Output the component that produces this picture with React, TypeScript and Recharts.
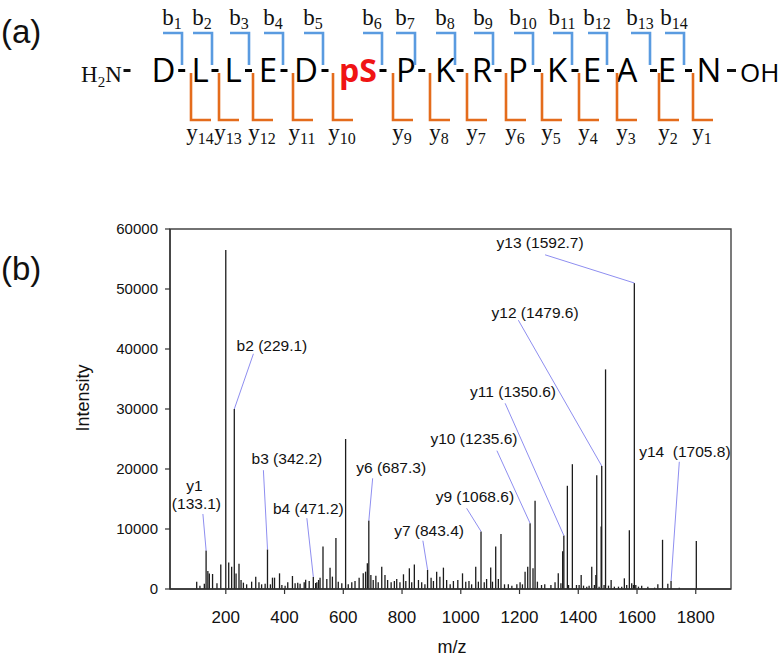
import React from "react";
import {
  ComposedChart,
  Bar,
  XAxis,
  YAxis,
  ReferenceLine,
  ReferenceDot,
  ReferenceArea,
} from "recharts";

// ---- (a) peptide sequence ----
const residues = ["D", "L", "L", "E", "D", "pS", "P", "K", "R", "P", "K", "E", "A", "E", "N"];
const bIons = ["1", "2", "3", "4", "5", "6", "7", "8", "9", "10", "11", "12", "13", "14"];
const yIons = ["14", "13", "12", "11", "10", "9", "8", "7", "6", "5", "4", "3", "2", "1"];

// ---- (b) MS/MS spectrum: peak m/z and intensity ----
const peakMz = [
  101, 112, 127, 133, 139, 144, 155, 170, 183, 200, 210, 220, 229, 235, 245, 252, 260, 271,
  288, 302, 313, 322, 334, 342, 352, 359, 366, 383, 391, 402, 411, 427, 436, 445, 453, 467,
  472, 484, 498, 506, 510, 516, 521, 531, 544, 555, 563, 575, 583, 595, 608, 617, 629, 640,
  654, 668, 676, 682, 687, 694, 702, 711, 719, 731, 742, 751, 763, 774, 782, 793, 805, 813,
  825, 833, 842, 856, 867, 878, 887, 899, 907, 918, 929, 941, 952, 964, 975, 990, 1006, 1017,
  1028, 1037, 1051, 1060, 1069, 1080, 1088, 1102, 1108, 1119, 1128, 1137, 1149, 1162, 1174,
  1191, 1202, 1210, 1219, 1228, 1236, 1246, 1253, 1261, 1275, 1286, 1307, 1321, 1332, 1341,
  1347, 1351, 1363, 1367, 1380, 1394, 1403, 1410, 1418, 1429, 1437, 1446, 1455, 1460, 1463,
  1471, 1478, 1480, 1488, 1493, 1503, 1512, 1523, 1537, 1548, 1557, 1565, 1574, 1582, 1588,
  1591, 1596, 1605, 1616, 1637, 1660, 1671, 1687, 1705, 1716, 1744, 1802,
];
const peakIntensity = [
  1220, 560, 890, 6400, 3000, 2600, 2500, 950, 4100, 56500, 4400, 3700, 30000, 2600, 4200, 1500, 1060, 780,
  1220, 2060, 1110, 780, 890, 6600, 780, 1890, 1890, 2610, 670, 560, 1110, 2170, 950, 1060, 890, 1110,
  1560, 1330, 2000, 1000, 1110, 1500, 1890, 7100, 1670, 3560, 2060, 8500, 1220, 950, 25000, 780, 1110, 1330,
  1890, 2610, 2890, 4300, 11400, 2340, 1500, 2220, 1110, 3720, 2340, 1500, 1110, 1330, 1670, 1110, 2450, 1330,
  3450, 1110, 4100, 1500, 1110, 780, 3200, 1890, 1330, 2890, 2060, 3560, 1500, 780, 1330, 1500, 2610, 1220,
  1330, 780, 3700, 1220, 9600, 1110, 1670, 3600, 1220, 7100, 1670, 9150, 780, 780, 560,
  780, 1110, 780, 2890, 3720, 10950, 3450, 14700, 1220, 670, 780, 670, 1110, 2610, 950,
  6300, 8900, 17200, 670, 20800, 670, 670, 2340, 560, 390, 560, 3700, 670, 2340, 18950,
  390, 10400, 20500, 670, 36600, 560, 1500, 390, 390, 390, 1780, 670, 9800, 945, 670,
  51000, 670, 390, 560, 390, 220, 780, 8200, 890, 1330, 220, 8000,
];

const xTicks = [200, 400, 600, 800, 1000, 1200, 1400, 1600, 1800];
const yTicks = [0, 10000, 20000, 30000, 40000, 50000, 60000];

// fragment annotations
const ionLabels = ["y1", "b2", "b3", "b4", "y6", "y7", "y9", "y10", "y11", "y12", "y13", "y14"];
const ionMasses = ["133.1", "229.1", "342.2", "471.2", "687.3", "843.4", "1068.6", "1235.6", "1350.6", "1479.6", "1592.7", "1705.8"];
const ionPeakMz = [133, 229, 342, 498, 687, 887, 1069, 1236, 1351, 1480, 1591, 1716];

// annotation placement (data coords): label centre, leader-line start
const labelAt = [
  [100, 15500], [357, 40400], [408, 21500], [481, 13200], [763, 20000], [892, 9500],
  [1048, 15100], [1045, 24800], [1178, 32700], [1253, 45800], [1270, 57500], [1763, 22600],
];
const leaderFrom = [
  [122, 12500], [294, 39200], [328, 19800], [476, 11800], [700, 18450], [871, 8050],
  [1020, 13450], [1123, 23050], [1151, 30950], [1196, 44800], [1287, 55700], [1744, 21200],
];

// layout of the sequence drawing (pixels)
const residueX = [163.5, 200, 233, 268, 306, 358, 406, 445, 482, 518, 557, 592, 627, 667, 709];
const dashX = [181.7, 215, 248.5, 284, 325, 383, 421.7, 460, 498, 537.5, 575, 610.5, 653.5, 688.5];
const bVertX = [182, 212, 249, 283, 323, 382, 415, 455, 493, 533, 572, 607, 650, 684];
const yVertX = [191, 219, 253, 293, 333, 393, 430, 467, 506, 542, 579, 617, 659, 693];

const SANS = "'Liberation Sans', Arial, sans-serif";
const SEQ_FONT = "'Open Sans', sans-serif";
const SERIF = "'Liberation Serif', 'Times New Roman', serif";
const BLUE = "#5a9be0";
const ORANGE = "#e46c1c";
const LEADER = "#8e8ef0";

const spectrum = peakMz.map((mz, i) => ({ mz, intensity: peakIntensity[i] }));

const PeakLine = (props: any) => {
  const { x, y, width, height } = props;
  if (x == null || y == null || isNaN(x) || isNaN(y)) return null;
  const cx = x + (width || 0) / 2;
  return <line x1={cx} x2={cx} y1={y} y2={y + height} stroke="#1c1c1c" strokeWidth={1.3} />;
};

function Peptide() {
  return (
    <svg width={784} height={160} style={{ position: "absolute", left: 0, top: 0 }}>
      <text x={1} y={43} fontSize={33} fontFamily={SANS} fill="#111">(a)</text>
      <text x={81} y={82} fontSize={23} fontFamily={SERIF} fill="#111">
        H<tspan fontSize={15} dy={5}>2</tspan>
        <tspan dy={-5}>N</tspan>
      </text>
      <rect x={123.5} y={69} width={7} height={3} fill="#111" />
      {residues.map((r, i) => (
        <text
          key={"r" + i}
          x={residueX[i]}
          y={82}
          textAnchor="middle"
          fontSize={r === "pS" ? 32 : 33}
          fontFamily={SEQ_FONT}
          fontWeight={r === "pS" ? 700 : 400}
          fill={r === "pS" ? "#f01414" : "#000"}
        >
          {r}
        </text>
      ))}
      {dashX.map((x, i) => (
        <rect key={"d" + i} x={x - 3.5} y={69} width={7} height={3} fill="#000" />
      ))}
      <rect x={727} y={69} width={9} height={3} fill="#111" />
      <text x={740} y={82} fontSize={26} fontFamily={SEQ_FONT} fill="#000">OH</text>
      {bVertX.map((x, i) => (
        <g key={"b" + i}>
          <polyline
            points={`${x - 19},33 ${x},33 ${x},65`}
            fill="none"
            stroke={BLUE}
            strokeWidth={2.6}
          />
          <text x={x - 10} y={25} textAnchor="middle" fontSize={23} fontFamily={SERIF} fill="#111">
            b<tspan fontSize={16} dy={4}>{bIons[i]}</tspan>
          </text>
        </g>
      ))}
      {yVertX.map((x, i) => (
        <g key={"y" + i}>
          <polyline
            points={`${x},73 ${x},120 ${x + 20},120`}
            fill="none"
            stroke={ORANGE}
            strokeWidth={2.6}
          />
          <text x={x + 9} y={140} textAnchor="middle" fontSize={23} fontFamily={SERIF} fill="#111">
            y<tspan fontSize={16} dy={4}>{yIons[i]}</tspan>
          </text>
        </g>
      ))}
    </svg>
  );
}

function peakHeight(mz: number) {
  const i = peakMz.indexOf(mz);
  return i >= 0 ? peakIntensity[i] : 0;
}

export default function App() {
  return (
    <div
      style={{
        position: "absolute",
        left: 0,
        top: 0,
        width: 784,
        height: 657,
        background: "#fff",
        overflow: "hidden",
      }}
    >
      <Peptide />
      <div style={{ position: "absolute", left: 0, top: 0 }}>
        <ComposedChart
          width={784}
          height={657}
          data={spectrum}
          margin={{ top: 229, right: 53, bottom: 28, left: 0 }}
        >
          <XAxis
            dataKey="mz"
            type="number"
            domain={[10, 1920]}
            allowDataOverflow
            ticks={xTicks}
            tick={{ fontSize: 17, fill: "#111", fontFamily: SANS }}
            tickSize={5}
            tickMargin={17}
            height={40}
            axisLine={{ stroke: "#333", strokeWidth: 1.4 }}
            tickLine={{ stroke: "#333", strokeWidth: 1.2 }}
          />
          <YAxis
            type="number"
            domain={[0, 60000]}
            allowDataOverflow
            ticks={yTicks}
            tick={{ fontSize: 15, fill: "#111", fontFamily: SANS }}
            tickSize={5}
            tickMargin={7}
            width={170}
            axisLine={{ stroke: "#333", strokeWidth: 1.4 }}
            tickLine={{ stroke: "#333", strokeWidth: 1.2 }}
          />
          <ReferenceArea
            x1={10}
            x2={1920}
            y1={0}
            y2={60000}
            fill="none"
            stroke="#444"
            strokeWidth={1.4}
            ifOverflow="visible"
          />
          <Bar
            dataKey="intensity"
            barSize={1}
            isAnimationActive={false}
            shape={<PeakLine />}
          />
          {ionLabels.map((lab, i) => (
            <ReferenceLine
              key={"l" + i}
              segment={[
                { x: leaderFrom[i][0], y: leaderFrom[i][1] },
                { x: ionPeakMz[i], y: peakHeight(ionPeakMz[i]) },
              ]}
              stroke={LEADER}
              strokeWidth={1}
              ifOverflow="visible"
            />
          ))}
          {ionLabels.map((lab, i) => (
            <ReferenceDot
              key={"t" + i}
              x={labelAt[i][0]}
              y={labelAt[i][1]}
              r={0}
              ifOverflow="visible"
              shape={(p: any) =>
                lab === "y1" ? (
                  <text x={p.cx} y={p.cy} textAnchor="middle" fontSize={15.5} fontFamily={SANS} fill="#111">
                    <tspan x={p.cx - 2} dy={-5}>{lab}</tspan>
                    <tspan x={p.cx} dy={18}>({ionMasses[i]})</tspan>
                  </text>
                ) : (
                  <text x={p.cx} y={p.cy + 4} textAnchor="middle" fontSize={15.5} fontFamily={SANS} fill="#111">
                    {lab === "y14" ? `${lab}\u00a0 (${ionMasses[i]})` : `${lab} (${ionMasses[i]})`}
                  </text>
                )
              }
            />
          ))}
        </ComposedChart>
      </div>
      <svg width={784} height={657} style={{ position: "absolute", left: 0, top: 0, pointerEvents: "none" }}>
        <text x={1} y={280} fontSize={33} fontFamily={SANS} fill="#111">(b)</text>
        <text
          x={83}
          y={398}
          transform="rotate(-90 83 398)"
          textAnchor="middle"
          dominantBaseline="central"
          fontSize={18}
          fontFamily={SANS}
          fill="#111"
        >
          Intensity
        </text>
        <text x={452} y={653} textAnchor="middle" fontSize={18} fontFamily={SANS} fill="#111">m/z</text>
      </svg>
    </div>
  );
}
